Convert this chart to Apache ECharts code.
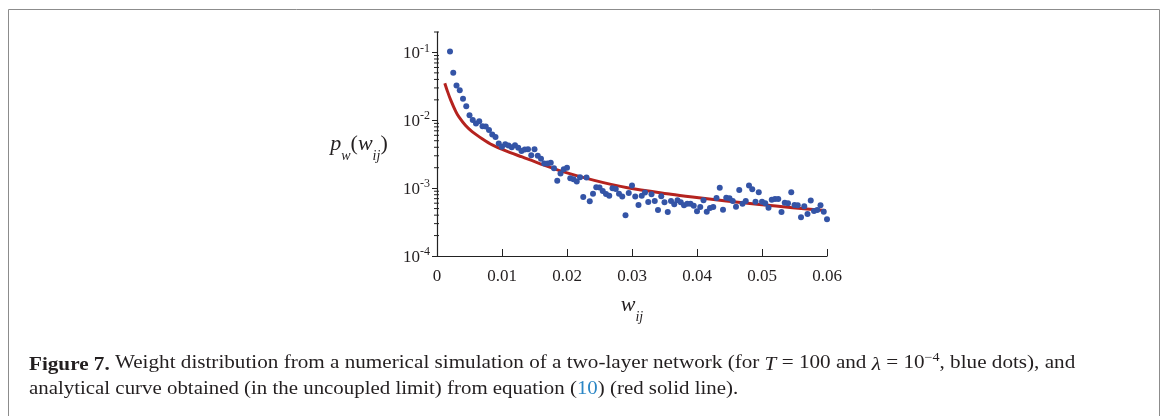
<!DOCTYPE html>
<html>
<head>
<meta charset="utf-8">
<script src="https://cdn.jsdelivr.net/npm/echarts/dist/echarts.min.js"></script>
<style>
  html, body { margin: 0; padding: 0; background: #fff; }
  #main { width: 1168px; height: 416px; }
</style>
</head>
<body>
<div id="main"></div>
<script>
// bin centres of the simulated weight histogram
var wDots = [
  0.0020, 0.0025, 0.0030, 0.0035, 0.0040, 0.0045, 0.0050, 0.0055, 0.0060, 0.0065,
  0.0070, 0.0075, 0.0080, 0.0085, 0.0090, 0.0095, 0.0100, 0.0105, 0.0110, 0.0115,
  0.0120, 0.0125, 0.0130, 0.0135, 0.0140, 0.0145, 0.0150, 0.0155, 0.0160, 0.0165,
  0.0170, 0.0175, 0.0180, 0.0185, 0.0190, 0.0195, 0.0200, 0.0205, 0.0210, 0.0215,
  0.0220, 0.0225, 0.0230, 0.0235, 0.0240, 0.0245, 0.0250, 0.0255, 0.0260, 0.0265,
  0.0270, 0.0275, 0.0280, 0.0285, 0.0290, 0.0295, 0.0300, 0.0305, 0.0310, 0.0315,
  0.0320, 0.0325, 0.0330, 0.0335, 0.0340, 0.0345, 0.0350, 0.0355, 0.0360, 0.0365,
  0.0370, 0.0375, 0.0380, 0.0385, 0.0390, 0.0395, 0.0400, 0.0405, 0.0410, 0.0415,
  0.0420, 0.0425, 0.0430, 0.0435, 0.0440, 0.0445, 0.0450, 0.0455, 0.0460, 0.0465,
  0.0470, 0.0475, 0.0480, 0.0485, 0.0490, 0.0495, 0.0500, 0.0505, 0.0510, 0.0515,
  0.0520, 0.0525, 0.0530, 0.0535, 0.0540, 0.0545, 0.0550, 0.0555, 0.0560, 0.0565,
  0.0570, 0.0575, 0.0580, 0.0585, 0.0590, 0.0595, 0.0600
];
// p_w(w_ij), blue dots
var pDots = [
  0.103, 0.050, 0.0325, 0.0278, 0.0207, 0.0161, 0.0119, 0.0101, 0.00893, 0.00971,
  0.00818, 0.00807, 0.00721, 0.00615, 0.00569, 0.00453, 0.00409, 0.00443, 0.00424, 0.00401,
  0.00430, 0.00395, 0.00354, 0.00370, 0.00375, 0.00305, 0.00375, 0.00301, 0.00270, 0.00230,
  0.00230, 0.00236, 0.00197, 0.00129, 0.00164, 0.00190, 0.00199, 0.00140, 0.00135, 0.00125,
  0.00145, 0.000741, 0.00143, 0.000641, 0.000829, 0.00103, 0.00102, 0.000910, 0.000820, 0.000774,
  0.000998, 0.000973, 0.000829, 0.000750, 0.000398, 0.000849, 0.00109, 0.000750, 0.000565, 0.000774,
  0.000859, 0.000625, 0.000812, 0.000647, 0.000476, 0.000760, 0.000619, 0.000445, 0.000647, 0.000579,
  0.000664, 0.000619, 0.000560, 0.000590, 0.000590, 0.000552, 0.000456, 0.000528, 0.000664, 0.000450,
  0.000511, 0.000528, 0.000716, 0.00101, 0.000482, 0.000724, 0.000710, 0.000647, 0.000533, 0.000939,
  0.000590, 0.000647, 0.00109, 0.000964, 0.000632, 0.000871, 0.000632, 0.000598, 0.000515, 0.000676,
  0.000693, 0.000693, 0.000445, 0.000611, 0.000598, 0.000871, 0.000565, 0.000560, 0.000372, 0.000541,
  0.000416, 0.000655, 0.000461, 0.000476, 0.000560, 0.000450, 0.000347
];
// analytical curve, red line
var wCurve = [0.0012, 0.0016, 0.0021, 0.0029, 0.0034, 0.0044, 0.0054, 0.0070, 0.0085, 0.0106,
  0.0131, 0.0157, 0.0191, 0.0242, 0.0293, 0.0360, 0.0393, 0.0445, 0.0496, 0.0547, 0.0598];
var pCurve = [0.0352, 0.0269, 0.0200, 0.0134, 0.0111, 0.00835, 0.00681, 0.00531, 0.00434, 0.00354,
  0.00288, 0.00232, 0.00178, 0.00130, 0.00101, 0.000812, 0.00074, 0.000647, 0.000575, 0.000516, 0.000468];

// axis ticks
var xTicks = [0, 0.01, 0.02, 0.03, 0.04, 0.05, 0.06];
var yDecades = [0.0001, 0.001, 0.01, 0.1];
var yDecadeLabels = ['-4', '-3', '-2', '-1'];
var yMinorTicks = [
  0.0002, 0.0003, 0.0004, 0.0005, 0.0006, 0.0007, 0.0008, 0.0009,
  0.002, 0.003, 0.004, 0.005, 0.006, 0.007, 0.008, 0.009,
  0.02, 0.03, 0.04, 0.05, 0.06, 0.07, 0.08, 0.09,
  0.2
];

var serif = '"Liberation Serif", "DejaVu Serif", serif';
var ink = '#231f20';

var dotData = wDots.map(function (w, i) { return [w, pDots[i]]; });
var curveData = wCurve.map(function (w, i) { return [w, pCurve[i]]; });
var minorData = yMinorTicks.map(function (v) { return [0, v]; });

var chart = echarts.init(document.getElementById('main'));
chart.setOption({
  backgroundColor: '#fff',
  animation: false,
  grid: { left: 437, right: 341, top: 32, bottom: 160 },
  xAxis: {
    type: 'value',
    min: 0,
    max: 0.06,
    interval: 0.01,
    name: '{w|w}{s|ij}',
    nameLocation: 'middle',
    nameGap: 38,
    nameTextStyle: {
      rich: {
        w: { fontFamily: serif, fontStyle: 'italic', fontSize: 22, color: ink, lineHeight: 24, verticalAlign: 'top' },
        s: { fontFamily: serif, fontStyle: 'italic', fontSize: 14, color: ink, lineHeight: 30, verticalAlign: 'bottom' }
      }
    },
    axisLine: { lineStyle: { color: '#222', width: 1.2 } },
    axisTick: { inside: true, length: 7, lineStyle: { color: '#222' } },
    splitLine: { show: false },
    axisLabel: {
      margin: 12,
      fontFamily: serif,
      fontSize: 17,
      color: ink,
      formatter: function (v) {
        var i = xTicks.indexOf(Math.round(v * 100) / 100);
        if (i < 0) return '';
        return i === 0 ? '0' : xTicks[i].toFixed(2);
      }
    }
  },
  yAxis: {
    type: 'log',
    logBase: 10,
    min: 0.0001,
    max: 0.2,
    axisLine: { show: true, lineStyle: { color: '#222', width: 1.2 } },
    axisTick: { show: true, length: 5, lineStyle: { color: '#222' } },
    splitLine: { show: false },
    axisLabel: {
      margin: 7,
      showMaxLabel: false,
      formatter: function (v) {
        for (var i = 0; i < yDecades.length; i++) {
          if (Math.abs(v / yDecades[i] - 1) < 1e-6) return '{b|10}{s|' + yDecadeLabels[i] + '}';
        }
        return '';
      },
      rich: {
        b: { fontFamily: serif, fontSize: 17, color: ink, lineHeight: 20, verticalAlign: 'bottom' },
        s: { fontFamily: serif, fontSize: 12, color: ink, lineHeight: 12, verticalAlign: 'top' }
      }
    }
  },
  graphic: [
    {
      type: 'rect',
      silent: true,
      shape: { x: 8.5, y: 9.5, width: 1151, height: 430 },
      style: { fill: 'none', stroke: '#8c8c8c', lineWidth: 1 }
    },
    {
      type: 'text',
      x: 359, y: 148,
      style: {
        text: '{i|p}{s|w}{u|(}{i|w}{s|ij}{u|)}',
        align: 'center',
        verticalAlign: 'middle',
        rich: {
          i: { fontFamily: serif, fontStyle: 'italic', fontSize: 22, fill: ink, lineHeight: 24, verticalAlign: 'top' },
          u: { fontFamily: serif, fontSize: 22, fill: ink, lineHeight: 24, verticalAlign: 'top' },
          s: { fontFamily: serif, fontStyle: 'italic', fontSize: 14, fill: ink, lineHeight: 30, verticalAlign: 'bottom' }
        }
      }
    },
    {
      // caption set in a wider face in the original; stretch to the same line length
      type: 'text',
      x: 29, y: 363,
      scaleX: 1.175,
      style: {
        text: '{b|Figure 7.} Weight distribution from a numerical simulation of a two-layer network (for {i|T} = 100 and {i|λ} = 10{s|−4}, blue dots), and',
        fontFamily: serif,
        fontSize: 18,
        fill: ink,
        verticalAlign: 'middle',
        rich: {
          b: { fontFamily: serif, fontWeight: 'bold', fontSize: 18, fill: ink, lineHeight: 22, verticalAlign: 'bottom' },
          i: { fontFamily: serif, fontStyle: 'italic', fontSize: 18, fill: ink, lineHeight: 22, verticalAlign: 'bottom' },
          s: { fontFamily: serif, fontSize: 12, fill: ink, lineHeight: 12, verticalAlign: 'top' }
        }
      }
    },
    {
      type: 'text',
      x: 29, y: 389,
      scaleX: 1.16,
      style: {
        text: 'analytical curve obtained (in the uncoupled limit) from equation ({l|10}) (red solid line).',
        fontFamily: serif,
        fontSize: 18,
        fill: ink,
        verticalAlign: 'middle',
        rich: {
          l: { fontFamily: serif, fontSize: 18, fill: '#2b86c5' }
        }
      }
    }
  ],
  series: [
    {
      name: 'minor ticks',
      type: 'custom',
      silent: true,
      clip: false,
      data: minorData,
      renderItem: function (params, api) {
        var p = api.coord([api.value(0), api.value(1)]);
        return {
          type: 'line',
          shape: { x1: p[0] - 3, y1: p[1], x2: p[0] + 2, y2: p[1] },
          style: { stroke: '#222', lineWidth: 1 }
        };
      }
    },
    {
      name: 'analytical',
      type: 'line',
      data: curveData,
      smooth: 0.3,
      showSymbol: false,
      lineStyle: { color: '#b5231f', width: 3, cap: 'butt', join: 'round' },
      z: 2
    },
    {
      name: 'simulation',
      type: 'scatter',
      data: dotData,
      symbolSize: 6,
      itemStyle: { color: '#3454a6', opacity: 1 },
      z: 3
    }
  ]
});
</script>
</body>
</html>
